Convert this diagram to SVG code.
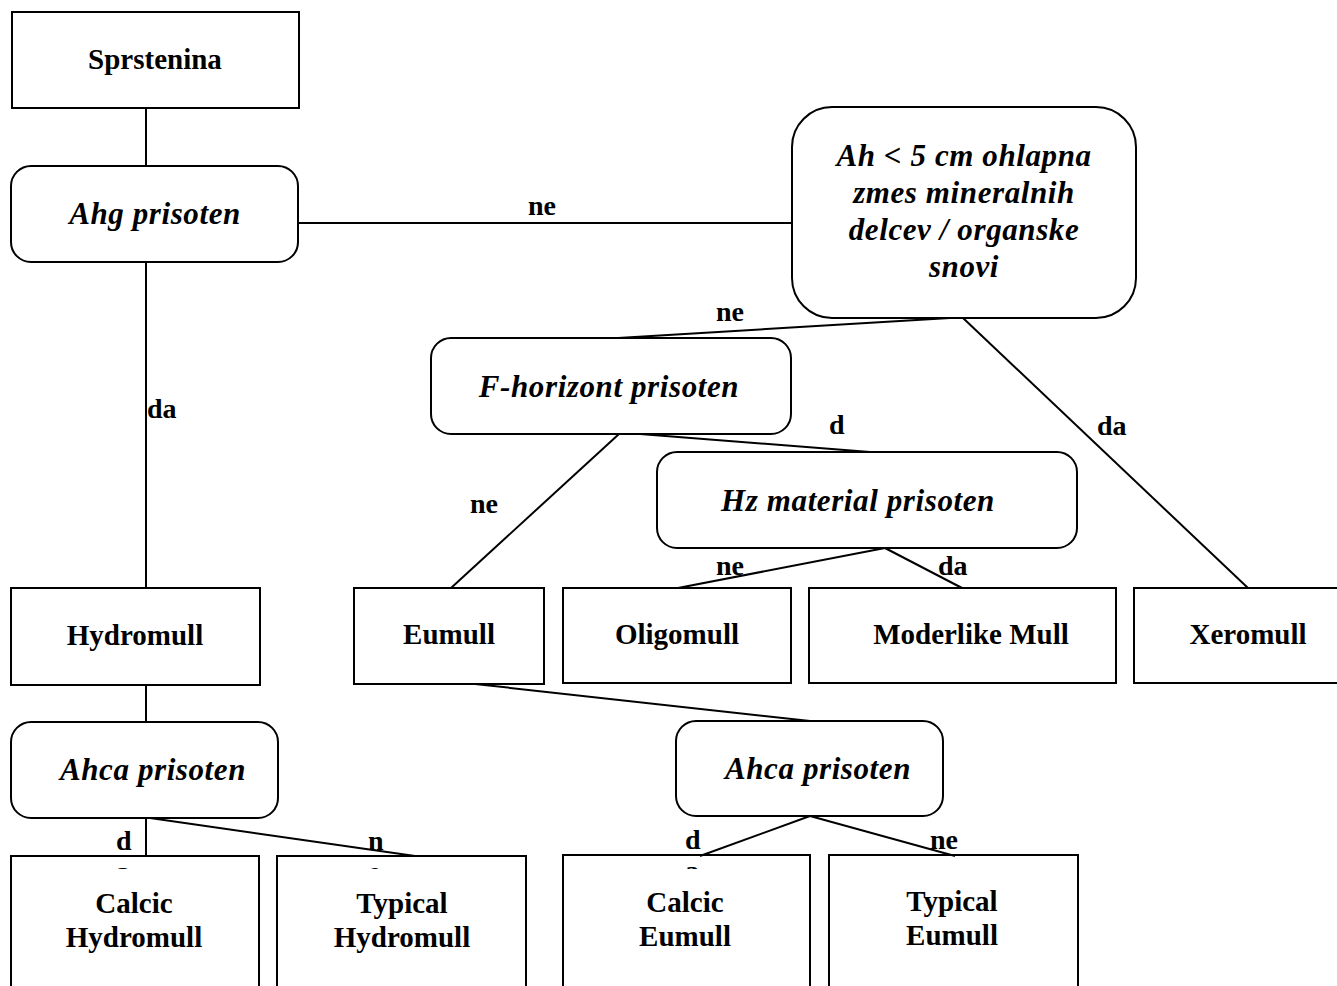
<svg xmlns="http://www.w3.org/2000/svg" width="1337" height="986" viewBox="0 0 1337 986">
<defs>
<style>
.box{fill:#fff;stroke:#000;stroke-width:2}
.t{font-family:"Liberation Serif","Times New Roman",serif;font-weight:bold;font-size:29px;text-anchor:middle;fill:#000}
.i{font-family:"Liberation Serif","Times New Roman",serif;font-weight:bold;font-style:italic;font-size:31px;text-anchor:middle;fill:#000;letter-spacing:0.6px}
.l{font-family:"Liberation Serif","Times New Roman",serif;font-weight:bold;font-size:28px;fill:#000}
.c{stroke:#000;stroke-width:2;fill:none}
</style>
<clipPath id="clipL"><rect x="100" y="850" width="60" height="19"/></clipPath>
<clipPath id="clipM"><rect x="360" y="850" width="60" height="19"/></clipPath>
<clipPath id="clipR"><rect x="670" y="850" width="60" height="19"/></clipPath>
</defs>
<rect width="1337" height="986" fill="#fff"/>
<g id="connectors">
<line class="c" x1="146" y1="108" x2="146" y2="166"/>
<line class="c" x1="298" y1="223" x2="792" y2="223"/>
<line class="c" x1="146" y1="262" x2="146" y2="588"/>
<line class="c" x1="146" y1="685" x2="146" y2="722"/>
<line class="c" x1="146" y1="818" x2="146" y2="856"/>
<line class="c" x1="150" y1="818" x2="415" y2="856"/>
<line class="c" x1="950" y1="318" x2="618" y2="338"/>
<line class="c" x1="963" y1="318" x2="1248" y2="588"/>
<line class="c" x1="640" y1="434" x2="870" y2="452"/>
<line class="c" x1="619" y1="434" x2="451" y2="588"/>
<line class="c" x1="885" y1="548" x2="678" y2="588"/>
<line class="c" x1="885" y1="548" x2="962" y2="588"/>
<line class="c" x1="475" y1="684" x2="810" y2="721"/>
<line class="c" x1="810" y1="816" x2="700" y2="856"/>
<line class="c" x1="810" y1="816" x2="955" y2="856"/>
<text class="l" x="528" y="215">ne</text>
<text class="l" x="147" y="418">da</text>
<text class="l" x="716" y="321">ne</text>
<text class="l" x="1097" y="435">da</text>
<text class="l" x="829" y="434">d</text>
<text class="l" x="470" y="513">ne</text>
<text class="l" x="716" y="575">ne</text>
<text class="l" x="938" y="575">da</text>
<text class="l" x="116" y="850">d</text>
<text class="l" x="116" y="881" clip-path="url(#clipL)">a</text>
<text class="l" x="368" y="850">n</text>
<text class="l" x="368" y="881" clip-path="url(#clipM)">e</text>
<text class="l" x="685" y="849">d</text>
<text class="l" x="685" y="880" clip-path="url(#clipR)">a</text>
<text class="l" x="930" y="849">ne</text>
</g>
<g id="sprstenina"><rect class="box" x="12" y="12" width="287" height="96"/><text class="t" x="155" y="69">Sprstenina</text></g>
<g id="ahg"><rect class="box" x="11" y="166" width="287" height="96" rx="20"/><text class="i" x="155" y="224">Ahg prisoten</text></g>
<g id="ah5"><rect class="box" x="792" y="107" width="344" height="211" rx="40"/>
<text class="i" x="964" y="166">Ah &lt; 5 cm ohlapna</text>
<text class="i" x="964" y="203">zmes mineralnih</text>
<text class="i" x="964" y="240">delcev / organske</text>
<text class="i" x="964" y="277">snovi</text></g>
<g id="fhor"><rect class="box" x="431" y="338" width="360" height="96" rx="20"/><text class="i" x="609" y="397">F-horizont prisoten</text></g>
<g id="hz"><rect class="box" x="657" y="452" width="420" height="96" rx="20"/><text class="i" x="858" y="511">Hz material prisoten</text></g>
<g id="hydromull"><rect class="box" x="11" y="588" width="249" height="97"/><text class="t" x="135" y="645">Hydromull</text></g>
<g id="eumull"><rect class="box" x="354" y="588" width="190" height="96"/><text class="t" x="449" y="644">Eumull</text></g>
<g id="oligomull"><rect class="box" x="563" y="588" width="228" height="95"/><text class="t" x="677" y="644">Oligomull</text></g>
<g id="moderlike"><rect class="box" x="809" y="588" width="307" height="95"/><text class="t" x="971" y="644">Moderlike Mull</text></g>
<g id="xeromull"><rect class="box" x="1134" y="588" width="210" height="95"/><text class="t" x="1248" y="644">Xeromull</text></g>
<g id="ahca1"><rect class="box" x="11" y="722" width="267" height="96" rx="20"/><text class="i" x="153" y="780">Ahca prisoten</text></g>
<g id="ahca2"><rect class="box" x="676" y="721" width="267" height="95" rx="20"/><text class="i" x="818" y="779">Ahca prisoten</text></g>
<g id="calcichydro"><rect class="box" x="11" y="856" width="248" height="140" fill-opacity="0"/><text class="t" x="134" y="913">Calcic</text><text class="t" x="134" y="947">Hydromull</text></g>
<g id="typicalhydro"><rect class="box" x="277" y="856" width="249" height="140" fill-opacity="0"/><text class="t" x="402" y="913">Typical</text><text class="t" x="402" y="947">Hydromull</text></g>
<g id="calciceu"><rect class="box" x="563" y="855" width="247" height="140" fill-opacity="0"/><text class="t" x="685" y="912">Calcic</text><text class="t" x="685" y="946">Eumull</text></g>
<g id="typicaleu"><rect class="box" x="829" y="855" width="249" height="140" fill-opacity="0"/><text class="t" x="952" y="911">Typical</text><text class="t" x="952" y="945">Eumull</text></g>
</svg>
